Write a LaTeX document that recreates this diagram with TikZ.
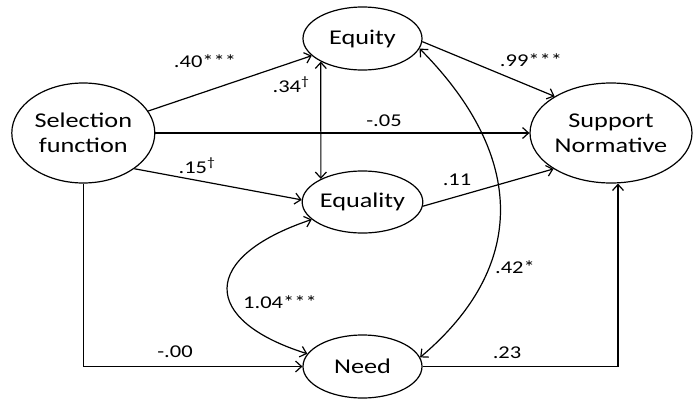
\documentclass[tikz,border=0pt]{standalone}
\usepackage{fontspec}
\setmainfont{Carlito}[FakeStretch=1.25]
\usetikzlibrary{shapes.geometric,arrows.meta}
\begin{document}
\begin{tikzpicture}[x=1pt, y=-1pt,
  >={Straight Barb[length=6pt,width=11pt]},
  semvar/.style = {draw, ellipse, line width=1.2pt, inner sep=0pt, align=center,
    font=\fontsize{21}{25}\selectfont},
  sempath/.style = {->, line width=1.2pt},
  semlbl/.style = {anchor=base, inner sep=0pt, font=\fontsize{18}{20}\selectfont}
]
  \useasboundingbox (0,0) rectangle (693,399);
  % latente Variablen
  \node[semvar, minimum width=143pt, minimum height=100pt] (sel) at (83.3,133) {Selection\\function};
  \node[semvar, minimum width=119pt, minimum height=63pt] (equity) at (362.5,38.5) {Equity};
  \node[semvar, minimum width=119pt, minimum height=62pt] (equality) at (362.5,202) {Equality};
  \node[semvar, minimum width=119pt, minimum height=63pt] (need) at (362.5,366.5) {Need};
  \node[semvar, minimum width=162pt, minimum height=100pt] (support) at (611,133) {Support\\Normative};
  % Pfade von der Selektionsfunktion
  \draw[sempath] (sel) -- (equity);
  \draw[sempath] (sel.east) -- (support.west);
  \draw[sempath] (sel.-35) -- (equality.178);
  \draw[sempath] (sel.south) |- (need.west);
  % Pfade zur Unterstuetzung
  \draw[sempath] (equity.-3) -- (support.147);
  \draw[sempath] (equality.-4) -- (support.-148);
  \draw[sempath] (need.east) -| ([xshift=7pt]support.south);
  % Kovarianzen
  \draw[sempath, <->] (equity.-151.4) -- (equality.151.9);
  \draw[sempath, <->] (equity.-10) .. controls (527,157) and (527,267) .. (need.9);
  \draw[sempath, <->] (equality.-161) .. controls (200,257) and (200,320) .. (need.167);
  % Koeffizienten
  \node[semlbl] (l40) at (205,67) {.40***};
  \node[semlbl] (l34) at (291,92) {.34\textsuperscript{†}};
  \node[semlbl] (l15) at (197,173) {.15\textsuperscript{†}};
  \node[semlbl] (l05) at (384,126) {-.05};
  \node[semlbl] (l99) at (531,66) {.99***};
  \node[semlbl] (l11) at (457,185) {.11};
  \node[semlbl] (l42) at (515,273) {.42*};
  \node[semlbl] (l104) at (280,308) {1.04***};
  \node[semlbl] (l00) at (175,357) {-.00};
  \node[semlbl] (l23) at (507,358) {.23};
\end{tikzpicture}
\end{document}
